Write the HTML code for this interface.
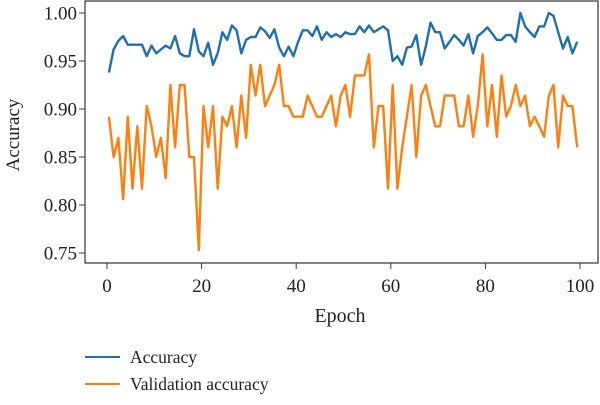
<!DOCTYPE html>
<html><head><meta charset="utf-8"><style>
html,body{margin:0;padding:0;background:#fff;}
svg text{font-family:"Liberation Serif",serif;fill:#222;}
</style></head><body>
<svg id="s" width="600" height="400" viewBox="0 0 600 400" xmlns="http://www.w3.org/2000/svg">
<rect x="85" y="1" width="513" height="262" fill="none" stroke="#333" stroke-width="1.2"/>
<g id="g"></g>
<polyline id="o" fill="none" stroke="#ff7f0e" stroke-width="2.4" stroke-linejoin="round"/>
<polyline id="b" fill="none" stroke="#1f6fb0" stroke-width="2.4" stroke-linejoin="round"/>
<text x="19" y="135" font-size="19" transform="rotate(-90 19 135)" text-anchor="middle">Accuracy</text>
<text x="340" y="322" font-size="20" text-anchor="middle">Epoch</text>
<line x1="85" y1="357" x2="120" y2="357" stroke="#1f6fb0" stroke-width="2"/>
<text x="130" y="363" font-size="17.5">Accuracy</text>
<line x1="85" y1="384" x2="120" y2="384" stroke="#ff7f0e" stroke-width="2"/>
<text x="130" y="390" font-size="17.5">Validation accuracy</text>
</svg>
<script>
var O=[0.892,0.85,0.87,0.806,0.892,0.817,0.882,0.817,0.903,0.882,0.85,0.87,0.828,0.925,0.86,0.925,0.925,0.85,0.85,0.753,0.903,0.86,0.903,0.817,0.892,0.882,0.903,0.86,0.914,0.87,0.946,0.914,0.946,0.903,0.914,0.925,0.946,0.903,0.903,0.892,0.892,0.892,0.914,0.903,0.892,0.892,0.903,0.914,0.882,0.914,0.925,0.892,0.935,0.935,0.935,0.957,0.86,0.903,0.903,0.817,0.925,0.817,0.86,0.892,0.925,0.85,0.914,0.925,0.903,0.882,0.882,0.914,0.914,0.914,0.882,0.882,0.914,0.871,0.903,0.957,0.882,0.925,0.871,0.935,0.892,0.903,0.925,0.903,0.914,0.882,0.892,0.882,0.871,0.914,0.925,0.86,0.914,0.903,0.903,0.86];
var B=[0.938,0.962,0.971,0.976,0.967,0.967,0.967,0.967,0.955,0.966,0.958,0.962,0.966,0.963,0.976,0.958,0.955,0.955,0.983,0.96,0.955,0.969,0.946,0.958,0.98,0.972,0.987,0.982,0.958,0.972,0.975,0.975,0.985,0.981,0.974,0.983,0.964,0.955,0.965,0.955,0.97,0.982,0.982,0.976,0.986,0.972,0.98,0.975,0.978,0.975,0.98,0.978,0.978,0.986,0.98,0.987,0.98,0.983,0.986,0.982,0.95,0.955,0.946,0.964,0.965,0.977,0.946,0.965,0.99,0.98,0.98,0.963,0.97,0.977,0.972,0.966,0.978,0.958,0.976,0.98,0.985,0.979,0.972,0.972,0.977,0.977,0.97,1.0,0.986,0.98,0.975,0.986,0.986,1.0,0.997,0.98,0.963,0.975,0.958,0.97];
function X(i){return 107+i*4.73;}function Y(v){return 13+(1-v)*960;}
function pts(a){return a.map(function(v,i){return X(i+0.4).toFixed(1)+","+Y(v).toFixed(1)}).join(" ");}
document.getElementById("o").setAttribute("points",pts(O));
document.getElementById("b").setAttribute("points",pts(B));
var g=document.getElementById("g"),h="";
[1.00,0.95,0.90,0.85,0.80,0.75].forEach(function(v){var y=Y(v);h+='<line x1="79" x2="85" y1="'+y+'" y2="'+y+'" stroke="#333"/><text x="77" y="'+(y+6.5)+'" font-size="19" text-anchor="end">'+v.toFixed(2)+'</text>';});
[0,20,40,60,80,100].forEach(function(v){var x=X(v);h+='<line x1="'+x+'" x2="'+x+'" y1="263" y2="269" stroke="#333"/><text x="'+x+'" y="292" font-size="19" text-anchor="middle">'+v+'</text>';});
g.innerHTML=h;
</script>
</body></html>
